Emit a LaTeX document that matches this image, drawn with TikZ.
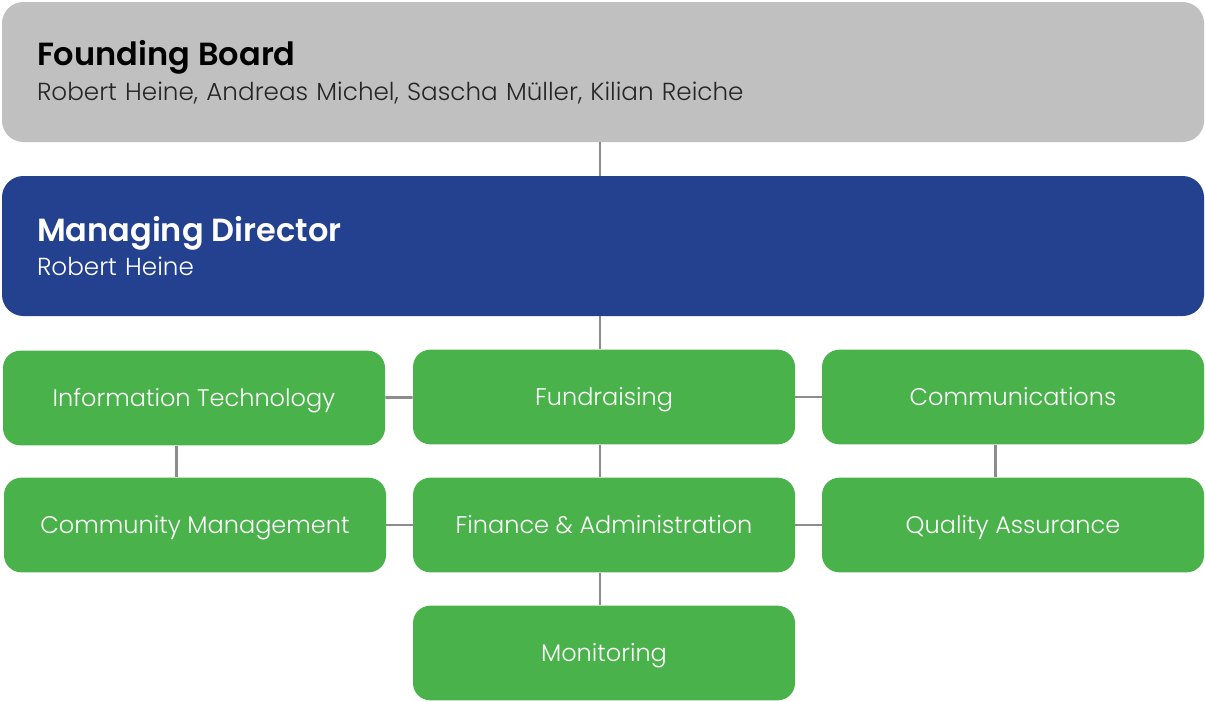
\documentclass[tikz,border=0pt]{standalone}
\usepackage{fontspec}
\setmainfont{Poppins}[UprightFont=* Light, BoldFont=* SemiBold]

\definecolor{boardgray}{HTML}{C0C0C0}
\definecolor{mdblue}{HTML}{24418F}
\definecolor{deptgreen}{HTML}{4AB24B}
\definecolor{linkgray}{HTML}{8C8C8C}

\begin{document}
\begin{tikzpicture}[x=0.75pt,y=-0.75pt,
	head/.style={rounded corners=16pt, minimum width=901.5pt, minimum height=105pt,
		text width=849pt, inner xsep=26.25pt, align=left, font=\fontsize{18.5}{26}\selectfont},
	dept/.style={fill=deptgreen, text=white, rounded corners=13pt,
		minimum width=286.5pt, minimum height=71pt, text height=12.6pt, text depth=0pt,
		font=\fontsize{18}{20}\selectfont},
	link/.style={draw=linkgray, line width=2.2pt}]

\useasboundingbox (0,0) rectangle (1205,701);

% board and director
\node [head, fill=boardgray, text=black!85] (board) at (603,72)
	{{\bfseries\color{black}\fontsize{24}{26}\selectfont Founding Board}\\
	Robert Heine, Andreas Michel, Sascha Müller, Kilian Reiche};
\node [head, fill=mdblue, text=white] (md) at (603,246)
	{{\bfseries\fontsize{24}{26}\selectfont Managing Director}\\
	Robert Heine};

% departments
\node [dept] (it) at (194,398) {Information Technology};
\node [dept] (fund) at (604,397) {Fundraising};
\node [dept] (comm) at (1013,397) {Communications};
\node [dept] (cm) at (195,525) {Community Management};
\node [dept] (fin) at (604,525) {Finance \& Administration};
\node [dept] (qa) at (1013,525) {Quality Assurance};
\node [dept] (mon) at (604,653) {Monitoring};

% connectors
\draw [link] ([xshift=-3pt]fund.north |- board.south) -- ([xshift=-3pt]fund.north |- md.north);
\draw [link] ([xshift=-3pt]fund.north |- md.south) -- ([xshift=-3pt]fund.north);
\draw [link] (it) -- (fund);
\draw [link] (fund) -- (comm);
\draw [link] ([xshift=-3pt]fund.south) -- ([xshift=-3pt]fin.north);
\draw [link] ([xshift=-13pt]it.south) -- ([xshift=-13pt]it.south |- cm.north);
\draw [link] ([xshift=-13pt]comm.south) -- ([xshift=-13pt]qa.north);
\draw [link] (cm) -- (fin);
\draw [link] (fin) -- (qa);
\draw [link] ([xshift=-3pt]fin.south) -- ([xshift=-3pt]mon.north);

\end{tikzpicture}
\end{document}
